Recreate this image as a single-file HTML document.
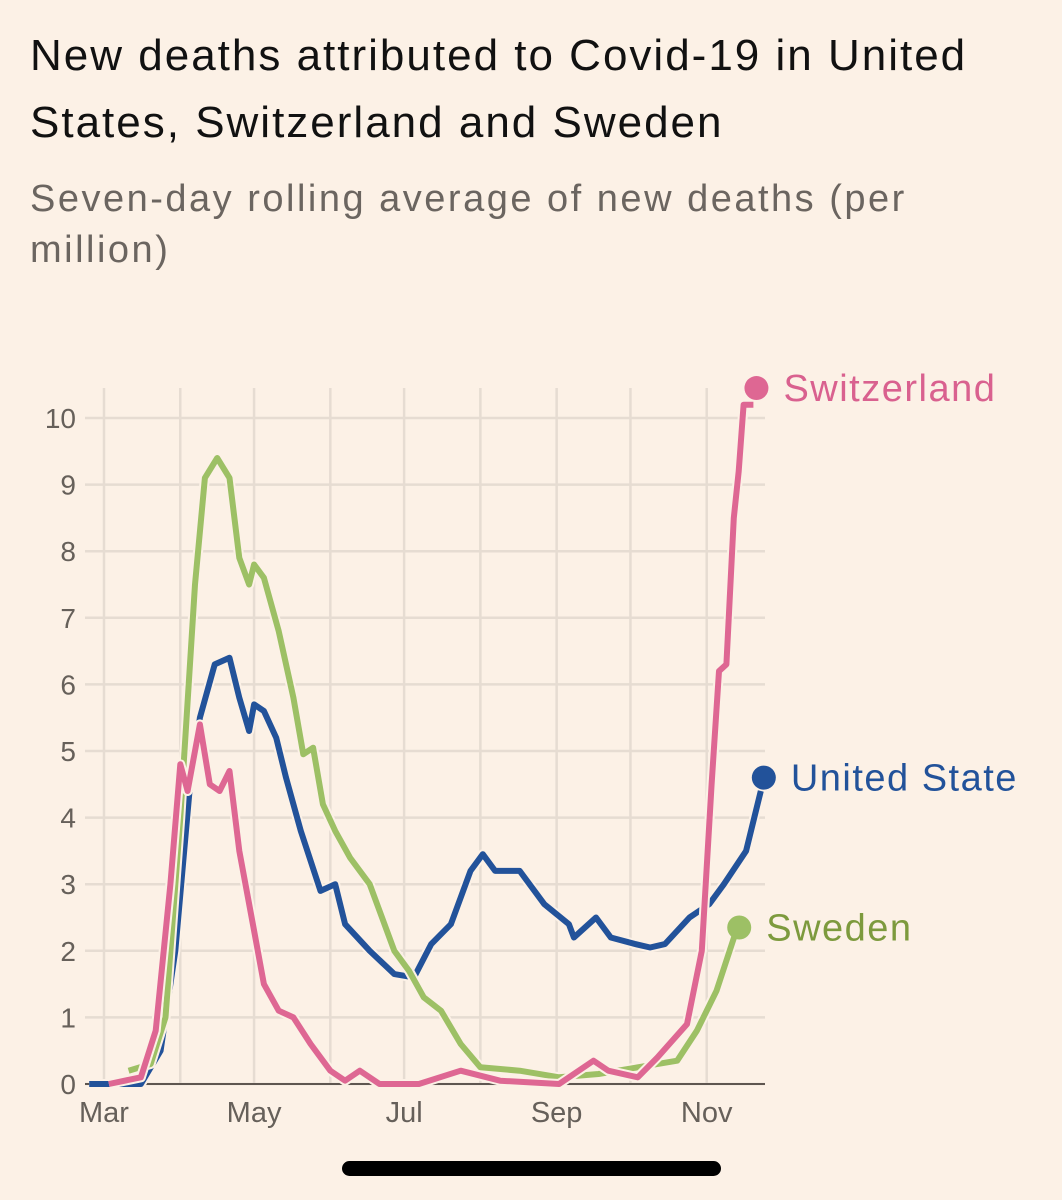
<!DOCTYPE html>
<html><head><meta charset="utf-8"><style>
body{margin:0;background:#fcf1e6;font-family:"Liberation Sans",sans-serif;}
#wrap{position:relative;width:1062px;height:1200px;overflow:hidden;background:#fcf1e6}
h1{position:absolute;left:30px;top:22px;margin:0;font-weight:normal;font-size:44px;letter-spacing:2px;line-height:67px;color:#111;width:1030px;white-space:nowrap}
h2{position:absolute;left:30px;top:174px;margin:0;font-weight:normal;font-size:38px;letter-spacing:2.5px;line-height:51px;color:#6b6560;width:1030px;white-space:nowrap}
#bar{position:absolute;left:342px;top:1161px;width:379px;height:15px;border-radius:8px;background:#000}
</style></head><body>
<div id="wrap">
<h1>New deaths attributed to Covid-19 in United<br>States, Switzerland and Sweden</h1>
<h2>Seven-day rolling average of new deaths (per<br>million)</h2>
<svg id="chart" width="1062" height="1200" style="position:absolute;left:0;top:0"></svg>
<div id="bar"></div>
</div>
<script>
const yTicks=[0,1,2,3,4,5,6,7,8,9,10];
const monthLabels=["Mar","Apr","May","Jun","Jul","Aug","Sep","Oct","Nov"];
const monthDays=[0,31,61,92,122,153,184,214,245];
const usDays=[-6,15,23,29,35,39,45,51,55,59,61,65,70,74,80,88,94,98,108,118,126,133,141,149,154,159,169,179,189,191,200,206,216,222,228,238,246,252,261,267];
const usVals=[0,0,0.5,2,4.5,5.5,6.3,6.4,5.8,5.3,5.7,5.6,5.2,4.6,3.8,2.9,3.0,2.4,2.0,1.65,1.6,2.1,2.4,3.2,3.45,3.2,3.2,2.7,2.4,2.2,2.5,2.2,2.1,2.05,2.1,2.5,2.7,3.0,3.5,4.4];
const swDays=[10,19,25,31,37,41,46,51,55,59,61,65,71,77,81,85,89,94,100,108,118,124,130,137,145,153,169,185,201,217,233,241,249,257];
const swVals=[0.2,0.3,1,4,7.5,9.1,9.4,9.1,7.9,7.5,7.8,7.6,6.8,5.8,4.95,5.05,4.2,3.8,3.4,3.0,2.0,1.7,1.3,1.1,0.6,0.25,0.2,0.1,0.15,0.25,0.35,0.8,1.4,2.3];
const chDays=[2,15,21,27,31,34,39,43,47,51,55,61,65,71,77,84,92,98,104,112,128,145,161,185,199,205,217,225,237,243,247,250,253,256,258,260,264];
const chVals=[0,0.1,0.8,3,4.8,4.4,5.4,4.5,4.4,4.7,3.5,2.3,1.5,1.1,1.0,0.6,0.2,0.05,0.2,0,0,0.2,0.05,0,0.35,0.2,0.1,0.4,0.9,2.0,4.5,6.2,6.3,8.5,9.2,10.2,10.2];
const endVals={ch:10.45,us:4.6,sw:2.35};

const X=d=>104+d*2.46, Y=v=>1084-v*66.6;
const svg=document.getElementById('chart'),NS='http://www.w3.org/2000/svg';
function mk(t,a){const e=document.createElementNS(NS,t);for(const k in a)e.setAttribute(k,a[k]);svg.appendChild(e);return e;}
yTicks.forEach(v=>{
 const l=mk('line',{x1:85,x2:765,y1:Y(v),y2:Y(v),stroke:'#e6dcd2','stroke-width':2.5});
 
 
 const t=mk('text',{x:76,y:Y(v)+10,'text-anchor':'end','font-size':28,fill:'#66605a','font-family':'Liberation Sans'});
 t.textContent=v;
 
 
});
monthLabels.forEach((m,i)=>{
 const l=mk('line',{x1:X(monthDays[i]),x2:X(monthDays[i]),y1:388,y2:1084,stroke:'#e6dcd2','stroke-width':2.5});
 
 
 if(i%2===0){const t=mk('text',{x:X(monthDays[i]),y:1122,'text-anchor':'middle','font-size':29,fill:'#66605a','font-family':'Liberation Sans'});
 t.textContent=m;
 
 }
});
const ax=mk('line',{x1:85,x2:765,y1:Y(0),y2:Y(0),stroke:'#5e5650','stroke-width':2});


function series(days,vals,col,name){
 const d=days.map((x,i)=>(i?'L':'M')+X(x).toFixed(1)+','+Y(vals[i]).toFixed(1)).join('');
 const h=mk('path',{d:d,fill:'none',stroke:'#fcf1e6','stroke-width':10,'stroke-linejoin':'round'});
 
 
 const p=mk('path',{d:d,fill:'none',stroke:col,'stroke-width':6,'stroke-linejoin':'round'});
 
 
}
series(usDays,usVals,'#22529a','united-states');
series(swDays,swVals,'#9dc065','sweden');
series(chDays,chVals,'#de6793','switzerland');
function end(days,val,col,tcol,label,name,dx){
 const cx=X(days[days.length-1])+3;
 const c=mk('circle',{cx:cx,cy:Y(val),r:12,fill:col});
 
 
 const t=mk('text',{x:cx+dx,y:Y(val)+13,'font-size':38,'letter-spacing':1.5,fill:tcol,'font-family':'Liberation Sans'});
 t.textContent=label;
 
 
}
end(chDays,endVals.ch,'#de6793','#d9618f','Switzerland','switzerland',27);
end(usDays,endVals.us,'#22529a','#22529a','United State','united-states',27);
end(swDays,endVals.sw,'#9dc065','#7d9a3d','Sweden','sweden',27);
</script>
</body></html>
